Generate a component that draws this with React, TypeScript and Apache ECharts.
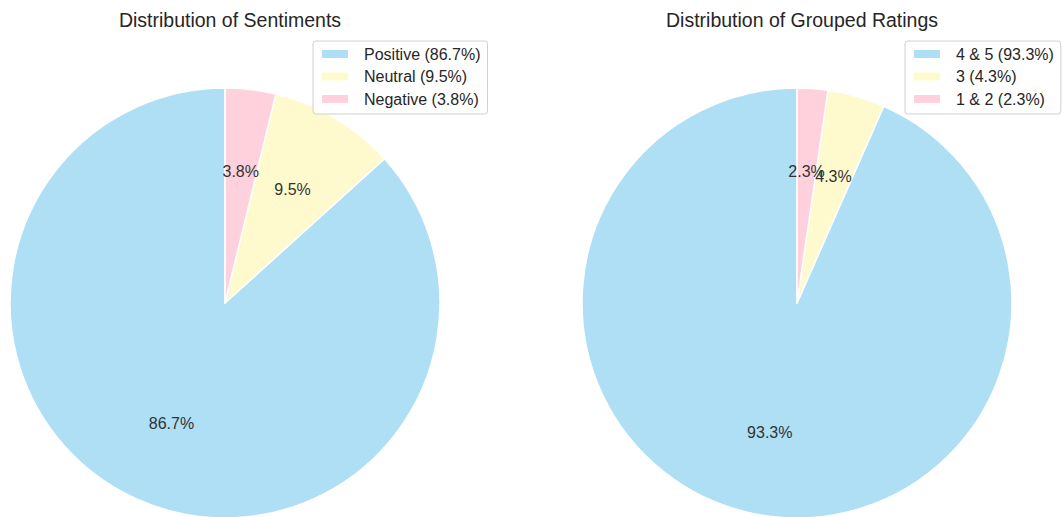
import React, { useEffect, useRef } from "react";
import * as echarts from "echarts";

// Sentiment shares (percent)
const sentimentNames = ["Positive", "Neutral", "Negative"];
const sentimentValues = [86.7, 9.5, 3.8];

// Grouped rating shares (percent)
const ratingNames = ["4 & 5", "3", "1 & 2"];
const ratingValues = [93.3, 4.3, 2.3];

const sliceColors = ["#AEDFF5", "#FFFACD", "#FFD1DC"];

const FONT = "Arial, 'Liberation Sans', Helvetica, sans-serif";
const RADIUS = 215;

function buildPie(
  names: string[],
  values: number[],
  cx: number,
  cy: number,
  legendLeft: number
) {
  const data = names.map((n, i) => ({
    name: n,
    value: values[i],
    itemStyle: { color: sliceColors[i] },
  }));
  const labelFor: Record<string, number> = {};
  names.forEach((n, i) => (labelFor[n] = values[i]));

  const wedges = {
    type: "pie",
    center: [cx, cy],
    radius: [0, RADIUS],
    startAngle: 90,
    clockwise: false,
    avoidLabelOverlap: false,
    silent: true,
    label: { show: false },
    labelLine: { show: false },
    itemStyle: { borderColor: "#ffffff", borderWidth: 1.5 },
    emphasis: { disabled: true },
    data,
  };

  // Transparent companion ring whose "inside" labels land at 0.6 of the wedge radius
  const labels = {
    type: "pie",
    center: [cx, cy],
    radius: [0, RADIUS * 1.2],
    startAngle: 90,
    clockwise: false,
    avoidLabelOverlap: false,
    minShowLabelAngle: 0,
    silent: true,
    legendHoverLink: false,
    itemStyle: { color: "rgba(0,0,0,0)", borderWidth: 0 },
    label: {
      show: true,
      position: "inside",
      overflow: "none",
      formatter: (p: any) => `${p.value}%`,
      color: "#333333",
      fontSize: 16,
      fontFamily: FONT,
    },
    labelLayout: { hideOverlap: false },
    labelLine: { show: false },
    emphasis: { disabled: true },
    data: names.map((n, i) => ({ name: n, value: values[i] })),
  };

  const legend = {
    orient: "vertical",
    left: legendLeft,
    top: 41,
    data: names.map((n, i) => ({ name: n, itemStyle: { color: sliceColors[i] } })),
    icon: "rect",
    itemWidth: 28,
    itemHeight: 10,
    itemGap: 4.5,
    padding: [4, 7, 6, 7],
    borderColor: "#d0d0d0",
    borderWidth: 1,
    borderRadius: 3,
    backgroundColor: "rgba(255,255,255,0.8)",
    selectedMode: false,
    formatter: (n: string) => `${n} (${labelFor[n]}%)`,
    textStyle: {
      fontSize: 16,
      lineHeight: 18,
      color: "#262626",
      fontFamily: FONT,
      padding: [0, 0, 0, 10],
    },
  };

  return { series: [wedges, labels], legend };
}

export default function App() {
  const ref = useRef<HTMLDivElement>(null);

  useEffect(() => {
    if (!ref.current) return;
    const chart = echarts.init(ref.current, null, { renderer: "svg" });
    const left = buildPie(sentimentNames, sentimentValues, 225, 303, 313);
    const right = buildPie(ratingNames, ratingValues, 797, 303, 905);

    const titleStyle = {
      fontSize: 19.5,
      fontWeight: "normal",
      color: "#262626",
      fontFamily: FONT,
    };

    chart.setOption({
      animation: false,
      backgroundColor: "#ffffff",
      title: [
        {
          text: "Distribution of Sentiments",
          left: 225,
          top: 5,
          textAlign: "center",
          textStyle: titleStyle,
        },
        {
          text: "Distribution of Grouped Ratings",
          left: 797,
          top: 5,
          textAlign: "center",
          textStyle: titleStyle,
        },
      ],
      legend: [left.legend, right.legend],
      series: [...left.series, ...right.series],
    });

    return () => chart.dispose();
  }, []);

  return (
    <div
      ref={ref}
      style={{ position: "absolute", left: 0, top: 0, width: 1062, height: 517 }}
    />
  );
}
